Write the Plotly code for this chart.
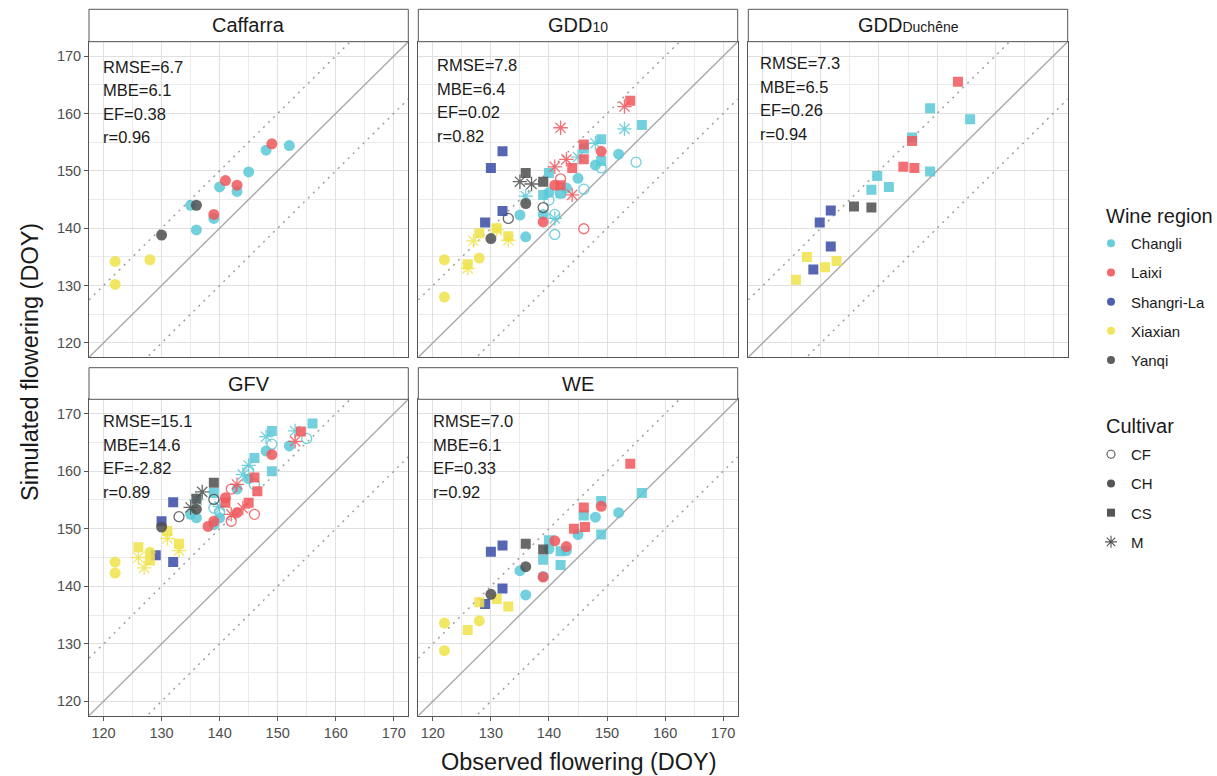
import plotly.graph_objects as go

# ---------------- data (observed DOY, simulated DOY, region code, cultivar) ----------------
caffarra_obs = [122, 122, 128, 130, 136, 135, 136, 139, 139, 140, 141, 143, 143, 145, 148, 149, 152]
caffarra_sim = [134.2, 130.2, 134.5, 138.8, 144.0, 144.0, 139.7, 141.7, 142.4, 147.2, 148.3, 147.5, 146.4, 149.8, 153.6, 154.7, 154.4]
caffarra_region = ["X", "X", "X", "Y", "Y", "C", "C", "C", "L", "C", "L", "L", "C", "C", "C", "L", "C"]
caffarra_cultivar = ["CH"] * 17

gdd10_obs = [122, 122, 128,
             126, 128, 131, 133,
             126, 127, 131, 133,
             130, 136, 133, 139, 136, 139, 135, 137,
             132, 130, 132, 129,
             135, 136, 139, 140, 143, 145, 148, 152,
             140, 141, 141, 142, 146, 149, 155,
             139, 140, 142, 146, 149, 149, 156,
             136, 141, 145, 148, 153,
             139, 141, 149,
             142, 146,
             142, 144, 146, 146, 154,
             141, 143, 144, 142, 153]
gdd10_sim = [134.5, 128.0, 134.8,
             133.7, 139.1, 140.0, 138.6,
             133.0, 137.8, 139.7, 137.9,
             138.2, 144.3, 141.7, 143.6, 149.6, 148.1, 148.1, 147.7,
             153.4, 150.5, 143.0, 141.0,
             142.3, 138.5, 142.4, 146.2, 147.0, 148.7, 151.0, 152.9,
             144.9, 142.4, 138.9, 146.1, 146.8, 150.5, 151.5,
             145.8, 149.6, 146.1, 153.9, 155.5, 151.7, 158.0,
             145.6, 141.7, 152.4, 154.8, 157.3,
             141.1, 147.5, 153.4,
             148.6, 139.9,
             147.5, 150.5, 152.0, 154.6, 162.2,
             150.7, 152.0, 145.8, 157.5, 161.2]
gdd10_region = (["X"] * 11 + ["Y"] * 8 + ["S"] * 4 + ["C"] * 27 + ["L"] * 15)
gdd10_cultivar = (["CH"] * 3 + ["CS"] * 4 + ["M"] * 4 +
                  ["CH", "CH", "CF", "CF", "CS", "CS", "M", "M"] +
                  ["CS"] * 4 +
                  ["CH"] * 8 + ["CF"] * 7 + ["CS"] * 7 + ["M"] * 5 +
                  ["CH"] * 3 + ["CF"] * 2 + ["CS"] * 5 + ["M"] * 5)

duchene_obs = [125.7, 127.6, 130.7, 132.7,
               128.7, 131.7, 129.8, 131.7,
               135.7, 138.7,
               138.7, 139.7, 141.7, 145.7, 148.8, 148.8, 155.7,
               144.2, 146.1, 145.7, 153.6]
duchene_sim = [131.0, 135.0, 133.2, 134.3,
               132.8, 136.8, 141.0, 143.1,
               143.8, 143.6,
               146.7, 149.1, 147.2, 155.8, 149.9, 160.9, 159.0,
               150.7, 150.5, 155.2, 165.5]
duchene_region = ["X"] * 4 + ["S"] * 4 + ["Y"] * 2 + ["C"] * 7 + ["L"] * 4
duchene_cultivar = ["CS"] * 21

gfv_obs = [122, 122, 128,
           126, 128, 131, 133,
           126, 127, 131, 133,
           132, 130, 129, 132,
           130, 136, 133, 139, 136, 139, 135, 137,
           135, 136, 139, 140, 143, 145, 148, 152,
           139, 140, 145, 146, 149, 155,
           139, 146, 149, 149, 156,
           136, 140, 144, 145, 148, 153,
           138, 139, 141, 143, 149,
           142, 142, 146,
           141, 145, 146, 146.5, 154,
           142, 143, 144, 153]
gfv_sim = [144.2, 142.3, 145.9,
           146.8, 144.5, 149.6, 147.4,
           145.0, 143.2, 148.3, 146.2,
           154.6, 151.3, 145.4, 144.2,
           150.3, 153.4, 152.1, 155.1, 155.2, 158.0, 153.7, 156.4,
           152.5, 151.9, 150.7, 151.9, 156.9, 158.7, 163.5, 164.4,
           153.6, 153.0, 160.1, 157.7, 164.7, 165.7,
           156.2, 162.3, 160.0, 167.0, 168.3,
           155.0, 153.9, 159.4, 161.0, 166.0, 167.0,
           150.4, 151.3, 155.4, 152.8, 162.9,
           151.3, 156.9, 152.5,
           154.5, 154.5, 158.9, 156.5, 166.9,
           152.5, 157.7, 153.6, 165.2]
gfv_region = (["X"] * 11 + ["S"] * 4 + ["Y"] * 8 + ["C"] * 25 + ["L"] * 17)
gfv_cultivar = (["CH"] * 3 + ["CS"] * 4 + ["M"] * 4 +
                ["CS"] * 4 +
                ["CH", "CH", "CF", "CF", "CS", "CS", "M", "M"] +
                ["CH"] * 8 + ["CF"] * 6 + ["CS"] * 5 + ["M"] * 6 +
                ["CH"] * 5 + ["CF"] * 3 + ["CS"] * 5 + ["M"] * 4)

we_obs = [122, 122, 128,
          126, 128, 131, 133,
          129, 130, 132, 132,
          130, 136, 136, 139,
          136, 135, 139, 140, 143, 145, 148, 152,
          139, 140, 142, 142, 146, 149, 149, 156,
          139, 141, 143, 149,
          144.3, 146.2, 146, 154]
we_sim = [133.6, 128.8, 134.0,
          132.4, 137.2, 137.8, 136.5,
          136.9, 146.0, 147.1, 139.6,
          138.6, 143.4, 147.4, 146.4,
          138.5, 142.7, 141.7, 146.5, 146.2, 149.0, 152.0, 152.8,
          144.6, 148.0, 146.1, 143.7, 152.3, 154.8, 149.0, 156.2,
          141.6, 147.9, 146.9, 153.9,
          150.0, 150.3, 153.7, 161.3]
we_region = (["X"] * 7 + ["S"] * 4 + ["Y"] * 4 + ["C"] * 16 + ["L"] * 8)
we_cultivar = (["CH"] * 3 + ["CS"] * 4 + ["CS"] * 4 + ["CH", "CH", "CS", "CS"] +
               ["CH"] * 8 + ["CS"] * 8 + ["CH"] * 4 + ["CS"] * 4)

panel_titles = ["Caffarra",
                "GDD<span style='font-size:14px'>10</span>",
                "GDD<span style='font-size:14px'>Duchêne</span>",
                "GFV", "WE"]
stats_text = [["RMSE=6.7", "MBE=6.1", "EF=0.38", "r=0.96"],
              ["RMSE=7.8", "MBE=6.4", "EF=0.02", "r=0.82"],
              ["RMSE=7.3", "MBE=6.5", "EF=0.26", "r=0.94"],
              ["RMSE=15.1", "MBE=14.6", "EF=-2.82", "r=0.89"],
              ["RMSE=7.0", "MBE=6.1", "EF=0.33", "r=0.92"]]
axis_ticks = [120, 130, 140, 150, 160, 170]

region_codes = ["C", "L", "S", "X", "Y"]
region_names = ["Changli", "Laixi", "Shangri-La", "Xiaxian", "Yanqi"]
region_colors = ["#5BC8D7", "#F0575B", "#3A4BA6", "#EEE34A", "#4D4D4D"]
cultivars = ["CF", "CH", "CS", "M"]

panels = [
    (caffarra_obs, caffarra_sim, caffarra_region, caffarra_cultivar),
    (gdd10_obs, gdd10_sim, gdd10_region, gdd10_cultivar),
    (duchene_obs, duchene_sim, duchene_region, duchene_cultivar),
    (gfv_obs, gfv_sim, gfv_region, gfv_cultivar),
    (we_obs, we_sim, we_region, we_cultivar),
]

# ---------------- layout geometry ----------------
W, H = 1217, 776
col_px = [(89.0, 408.3), (418.3, 737.7), (748.3, 1067.7)]
row_px = [(41.7, 357.3), (399.3, 715.7)]
strip_px = [(9.3, 41.7), (367.7, 399.3)]
panel_pos = [(0, 0), (0, 1), (0, 2), (1, 0), (1, 1)]
stat_dx = [12, 16.5, 10, 12, 13]
stat_dy = [25, 23.3, 21.6, 21.7, 21.7]
XR = [117.5, 172.5]

FONT = "Liberation Sans, Arial, sans-serif"

symbol_map = {"CF": "circle-open", "CH": "circle", "CS": "square", "M": "asterisk-open"}
size_map = {"CF": 10, "CH": 11, "CS": 10, "M": 12}

fig = go.Figure()

for i, (obs, sim, reg, cul) in enumerate(panels):
    ax = "" if i == 0 else str(i + 1)
    xa, ya = "x" + ax, "y" + ax
    # reference lines: 1:1 and +/-10 days
    for off, dash, col in [(0, "solid", "#A9A9A9"), (10, "2px,5px", "#9A9A9A"), (-10, "2px,5px", "#9A9A9A")]:
        fig.add_trace(go.Scatter(x=XR, y=[XR[0] + off, XR[1] + off], mode="lines",
                                 line=dict(color=col, width=1.4, dash=dash),
                                 hoverinfo="skip", showlegend=False, xaxis=xa, yaxis=ya))
    for rc, rcol in zip(region_codes, region_colors):
        for cv in cultivars:
            idx = [k for k in range(len(obs)) if reg[k] == rc and cul[k] == cv]
            if not idx:
                continue
            sym = symbol_map[cv]
            open_sym = sym.endswith("open")
            fig.add_trace(go.Scatter(
                x=[obs[k] for k in idx], y=[sim[k] for k in idx], mode="markers",
                marker=dict(symbol=sym, size=size_map[cv], color=rcol, opacity=0.85,
                            line=dict(color=rcol, width=1.3 if open_sym else 0)),
                showlegend=False, xaxis=xa, yaxis=ya))

# legend entries
for name, rcol in zip(region_names, region_colors):
    fig.add_trace(go.Scatter(x=[None], y=[None], mode="markers", name=name,
                             marker=dict(symbol="circle", size=8, color=rcol, opacity=0.9),
                             legend="legend", legendgroup=name, showlegend=True))
for cv in cultivars:
    sym = symbol_map[cv]
    fig.add_trace(go.Scatter(x=[None], y=[None], mode="markers", name=cv,
                             marker=dict(symbol=sym, size=8 if cv != "M" else 10, color="#555555",
                                         line=dict(color="#555555", width=1.1 if sym.endswith("open") else 0)),
                             legend="legend2", legendgroup="c" + cv, showlegend=True))

layout = dict(width=W, height=H, margin=dict(l=0, r=0, t=0, b=0),
              paper_bgcolor="white", plot_bgcolor="white",
              font=dict(family=FONT, color="#1A1A1A"))

shapes, annotations = [], []
for i, (r, c) in enumerate(panel_pos):
    ax = "" if i == 0 else str(i + 1)
    x0, x1 = col_px[c]
    y0, y1 = row_px[r]
    show_x = (r == 1)
    show_y = (c == 0)
    axis_common = dict(range=XR, tickvals=axis_ticks, showgrid=True, gridcolor="#E0E0E0", gridwidth=1.1,
                       minor=dict(dtick=5, tick0=115, showgrid=True, gridcolor="#EBEBEB", gridwidth=0.8),
                       zeroline=False, showline=True, mirror=True, linecolor="#555555", linewidth=1,
                       tickfont=dict(size=14.5, color="#4D4D4D", family=FONT), fixedrange=True)
    layout["xaxis" + ax] = dict(axis_common, domain=[x0 / W, x1 / W], anchor="y" + ax,
                                showticklabels=show_x, ticks="outside" if show_x else "",
                                ticklen=4, tickcolor="#555555")
    layout["yaxis" + ax] = dict(axis_common, domain=[1 - y1 / H, 1 - y0 / H], anchor="x" + ax,
                                showticklabels=show_y, ticks="outside" if show_y else "",
                                ticklen=4, tickcolor="#555555")
    s0, s1 = strip_px[r]
    shapes.append(dict(type="rect", xref="paper", yref="paper", x0=x0 / W, x1=x1 / W,
                       y0=1 - s1 / H, y1=1 - s0 / H, fillcolor="white",
                       line=dict(color="#555555", width=1), layer="above"))
    annotations.append(dict(text=panel_titles[i], xref="paper", yref="paper",
                            x=(x0 + x1) / 2 / W, y=1 - (s0 + s1) / 2 / H,
                            showarrow=False, xanchor="center", yanchor="middle",
                            font=dict(size=20, color="#1A1A1A", family=FONT)))
    for k, line in enumerate(stats_text[i]):
        annotations.append(dict(text=line, xref="paper", yref="paper",
                                x=(x0 + stat_dx[i]) / W, y=1 - (y0 + stat_dy[i] + 23.5 * k) / H,
                                showarrow=False, xanchor="left", yanchor="middle",
                                font=dict(size=16.5, color="#1A1A1A", family=FONT)))

annotations.append(dict(text="Simulated flowering (DOY)", xref="paper", yref="paper",
                        x=30 / W, y=1 - 362 / H, textangle=-90, showarrow=False,
                        xanchor="center", yanchor="middle", font=dict(size=23.5, family=FONT, color="#1A1A1A")))
annotations.append(dict(text="Observed flowering (DOY)", xref="paper", yref="paper",
                        x=578.5 / W, y=1 - 762 / H, showarrow=False,
                        xanchor="center", yanchor="middle", font=dict(size=23.5, family=FONT, color="#1A1A1A")))
annotations.append(dict(text="Wine region", xref="paper", yref="paper",
                        x=1104 / W, y=1 - 216 / H, showarrow=False,
                        xanchor="left", yanchor="middle", font=dict(size=20, family=FONT, color="#1A1A1A")))
annotations.append(dict(text="Cultivar", xref="paper", yref="paper",
                        x=1104 / W, y=1 - 426 / H, showarrow=False,
                        xanchor="left", yanchor="middle", font=dict(size=20, family=FONT, color="#1A1A1A")))

layout["shapes"] = shapes
layout["annotations"] = annotations
legend_common = dict(xanchor="left", yanchor="top", traceorder="grouped", tracegroupgap=6.7,
                     font=dict(size=15, family=FONT, color="#1A1A1A"), bgcolor="rgba(0,0,0,0)",
                     borderwidth=0, itemclick=False, itemdoubleclick=False)
layout["legend"] = dict(legend_common, x=1091 / W, y=1 - 227 / H)
layout["legend2"] = dict(legend_common, x=1091 / W, y=1 - 438 / H)

fig.update_layout(**layout)
fig.write_html("out.html", config={"displayModeBar": False},
               post_script="document.body.style.margin='0';document.body.style.padding='0';"
                           "document.body.style.overflow='hidden';")
